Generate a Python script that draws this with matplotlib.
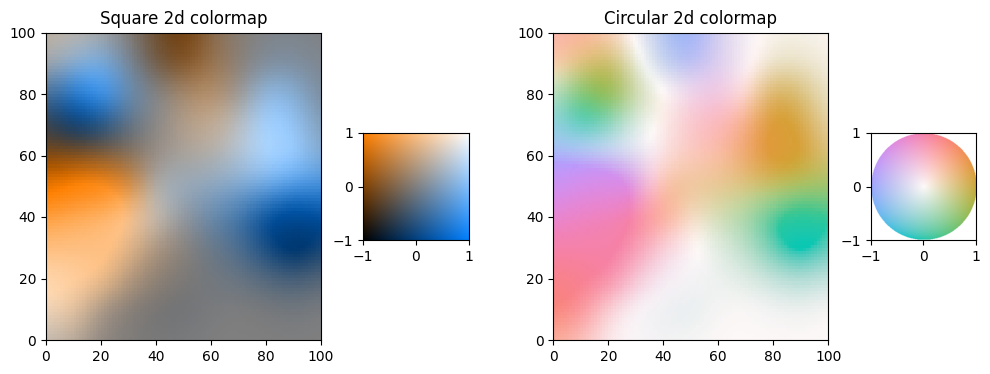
import numpy as np
import matplotlib
matplotlib.use("Agg")
import matplotlib as mpl
import matplotlib.pyplot as plt
from matplotlib import _image
from matplotlib.transforms import Affine2D

W, H = 990, 374
cells = 100
xgrid = [0, 10, 20, 30, 40, 50, 60, 70, 80, 90, 100]
# rows run from y=100 at the top to y=0 at the bottom
field_a = [
 [ .25, .33, .27,-.08,-.65,-1.0,-.42,-.07, .07, .07, .03],
 [ .32, .70, .90, .20,-.50,-.80,-.40,-.10, .22, .25, .10],
 [ .15, .70,1.10, .45, .10,-.12,-.20, .10, .90, .72, .20],
 [-.42,-.12, .00, .00, .05, .08, .14, .52,1.10, .98, .38],
 [-.88,-.85,-.65,-.30, .03, .22, .32, .68,1.05,1.10, .62],
 [-1.3,-1.1,-1.0,-.75, .50, .50, .55, .65, .85, .82, .80],
 [-.50,-.30,-.15, .20, .48, .20, .36, .35, .20, .10, .20],
 [ .00, .03, .02, .05,-.05,-.05, .05, .12, .03,-.25,-.10],
 [ .40, .25, .08,-.02,-.10,-.08,-.02, .02,-.02,-.05,-.08],
 [ .50, .25, .06,-.08,-.10,-.08,-.02,-.02,-.05,-.02, .00],
 [ .40, .20, .00,-.05,-.05,-.02, .00, .00, .00, .00, .00],
]
field_b = [
 [ .50, .53, .33, .00,-.14,-.15, .10, .05, .00,-.02, .00],
 [ .34, .10,-.10,-.05,-.15, .00, .22, .07,-.03,-.02, .00],
 [-.48,-.85,-.60,-.20, .02, .32, .48, .20, .12, .03,-.04],
 [-.60,-1.1,-.90,-.27, .08, .42, .57, .50, .27, .15, .01],
 [ .00, .00, .02, .02, .18, .34, .40, .42, .42, .25, .03],
 [ .90,1.20,1.20, .78, .35, .18, .10, .00,-.15,-.45,-.50],
 [1.20,1.40,1.30,1.00, .60, .12,-.22,-.52,-1.05,-1.3,-1.05],
 [1.20,1.20,1.10, .80, .33, .08,-.18,-.38,-.85,-1.25,-.80],
 [1.10,1.00,1.00, .42, .10,-.03,-.10,-.18,-.33,-.45,-.30],
 [ .90, .90, .27, .00,-.10,-.15,-.05, .00,-.05,-.10,-.02],
 [ .50, .42, .10, .00,-.05,-.05, .00, .00, .00, .00, .00],
]

def upsample(rows):
    src = np.asarray(rows, dtype=float)[::-1]
    out = np.zeros((cells, cells))
    step = cells / (len(xgrid) - 1)
    tr = Affine2D().translate(-0.5, -0.5).scale(step, step)
    _image.resample(src, out, tr, interpolation=_image.BICUBIC)
    return out

a = upsample(field_a)
b = upsample(field_b)

def box(l, t, r, bo):
    return [l / W, 1 - bo / H, (r - l) / W, (bo - t) / H]

fig = plt.figure(figsize=(W / 100, H / 100), dpi=100)
axes = [
    ("BiOrangeBlue", "Square 2d colormap", box(46, 32.5, 321, 340), box(363, 133, 469, 240)),
    ("BiCone", "Circular 2d colormap", box(553.3, 32.5, 828.3, 340), box(870.5, 133, 976, 240)),
]
for name, title, main_box, leg_box in axes:
    cmap = mpl.bivar_colormaps[name]
    ax = fig.add_axes(main_box)
    ax.imshow(cmap(((b + 1) / 2, (a + 1) / 2)), origin="lower", extent=(0, 100, 0, 100),
              aspect="auto", interpolation="nearest")
    ax.set_title(title)
    ax.set_xticks([0, 20, 40, 60, 80, 100])
    ax.set_yticks([0, 20, 40, 60, 80, 100])
    lg = fig.add_axes(leg_box)
    lg.imshow(cmap.lut, origin="lower", extent=(-1, 1, -1, 1), aspect="auto")
    lg.set_xticks([-1, 0, 1])
    lg.set_yticks([-1, 0, 1])

fig.savefig("out.png", dpi=100)
